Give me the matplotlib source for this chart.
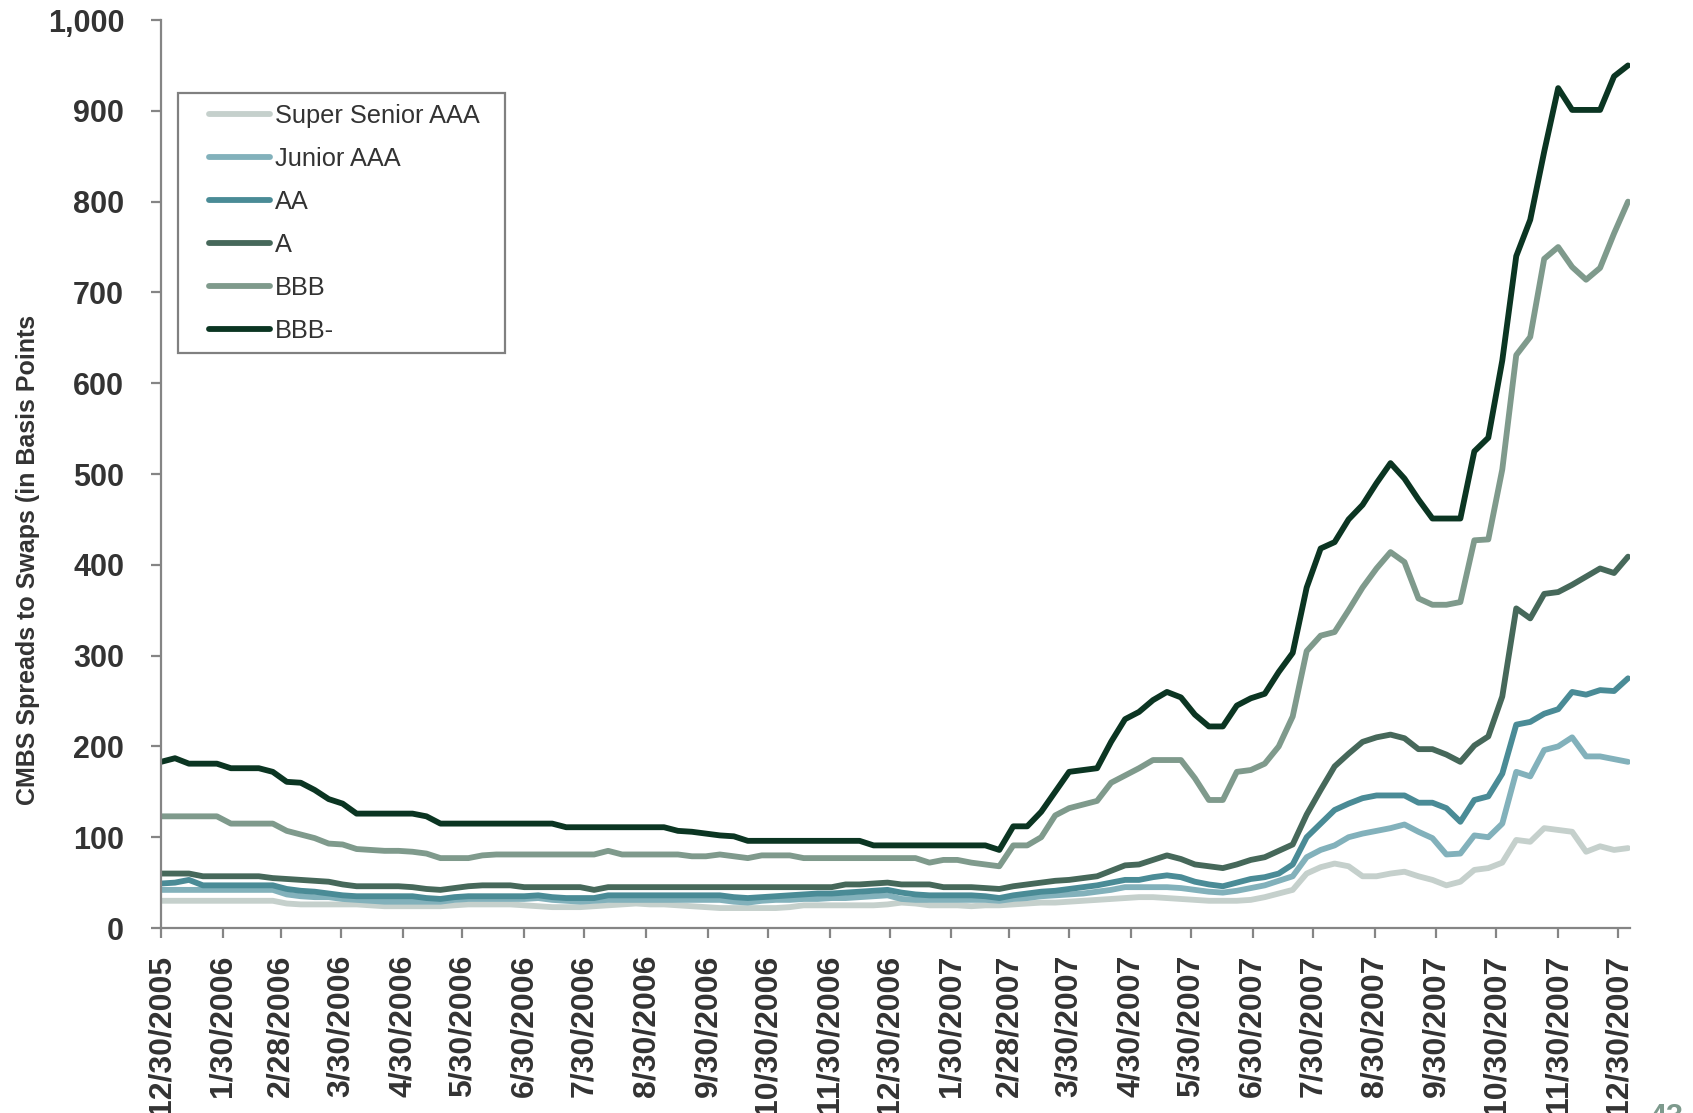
import datetime as dt

import numpy as np
import matplotlib
matplotlib.use("Agg")
import matplotlib.pyplot as plt
import matplotlib.dates as mdates
from matplotlib.patches import Rectangle
from matplotlib.ticker import FuncFormatter

plt.rcParams['font.family'] = ['Liberation Sans', 'DejaVu Sans']

# weekly observations, 12/30/2005 .. 1/4/2008
week_dates = [dt.date(2005, 12, 30) + dt.timedelta(days=7 * k) for k in range(106)]

super_senior_aaa = [
    30, 30, 30, 30, 30, 30, 30, 30, 30, 27,
    26, 26, 26, 26, 26, 25, 24, 24, 24, 24,
    24, 25, 26, 26, 26, 26, 25, 24, 23, 23,
    23, 24, 25, 26, 27, 26, 26, 25, 24, 23,
    22, 22, 22, 22, 22, 23, 25, 25, 25, 25,
    25, 25, 26, 28, 27, 25, 25, 25, 24, 25,
    25, 26, 27, 28, 28, 29, 30, 31, 32, 33,
    34, 34, 33, 32, 31, 30, 30, 30, 31, 34,
    38, 42, 60, 67, 71, 68, 57, 57, 60, 62,
    57, 53, 47, 51, 64, 66, 72, 97, 95, 110,
    108, 106, 84, 90, 86, 88]

junior_aaa = [
    42, 42, 42, 42, 42, 42, 42, 42, 42, 37,
    35, 34, 34, 32, 31, 30, 29, 29, 29, 29,
    29, 31, 32, 32, 32, 32, 32, 33, 31, 30,
    29, 30, 31, 31, 31, 31, 31, 31, 31, 31,
    31, 29, 28, 30, 31, 31, 32, 32, 33, 33,
    34, 35, 36, 32, 31, 31, 31, 31, 31, 31,
    30, 32, 33, 35, 36, 37, 38, 40, 42, 45,
    45, 45, 45, 44, 42, 40, 39, 41, 44, 47,
    52, 57, 78, 86, 91, 100, 104, 107, 110, 114,
    106, 99, 81, 82, 102, 100, 115, 172, 167, 196,
    200, 210, 189, 189, 186, 183]

aa = [
    49, 50, 53, 47, 47, 47, 47, 47, 47, 43,
    41, 40, 38, 36, 35, 35, 35, 35, 35, 33,
    32, 34, 35, 35, 35, 35, 35, 36, 34, 33,
    33, 33, 36, 36, 36, 36, 36, 36, 36, 36,
    36, 34, 33, 34, 35, 36, 37, 38, 38, 39,
    40, 41, 42, 39, 37, 36, 36, 36, 36, 35,
    33, 36, 38, 40, 41, 43, 45, 47, 50, 53,
    53, 56, 58, 56, 51, 48, 46, 50, 54, 56,
    60, 70, 100, 115, 130, 137, 143, 146, 146, 146,
    138, 138, 132, 117, 141, 145, 170, 224, 227, 236,
    241, 260, 257, 262, 261, 275]

a = [
    60, 60, 60, 57, 57, 57, 57, 57, 55, 54,
    53, 52, 51, 48, 46, 46, 46, 46, 45, 43,
    42, 44, 46, 47, 47, 47, 45, 45, 45, 45,
    45, 42, 45, 45, 45, 45, 45, 45, 45, 45,
    45, 45, 45, 45, 45, 45, 45, 45, 45, 48,
    48, 49, 50, 48, 48, 48, 45, 45, 45, 44,
    43, 46, 48, 50, 52, 53, 55, 57, 63, 69,
    70, 75, 80, 76, 70, 68, 66, 70, 75, 78,
    85, 92, 125, 152, 178, 192, 205, 210, 213, 209,
    197, 197, 191, 183, 201, 211, 255, 352, 341, 368,
    370, 378, 387, 396, 391, 409]

bbb = [
    123, 123, 123, 123, 123, 115, 115, 115, 115, 107,
    103, 99, 93, 92, 87, 86, 85, 85, 84, 82,
    77, 77, 77, 80, 81, 81, 81, 81, 81, 81,
    81, 81, 85, 81, 81, 81, 81, 81, 79, 79,
    81, 79, 77, 80, 80, 80, 77, 77, 77, 77,
    77, 77, 77, 77, 77, 72, 75, 75, 72, 70,
    68, 91, 91, 100, 124, 132, 136, 140, 160, 168,
    176, 185, 185, 185, 165, 141, 141, 172, 174, 181,
    200, 233, 305, 322, 326, 350, 375, 396, 414, 403,
    363, 356, 356, 359, 427, 428, 505, 631, 651, 737,
    750, 728, 714, 727, 765, 800]

bbb_minus = [
    183, 187, 181, 181, 181, 176, 176, 176, 172, 161,
    160, 152, 142, 137, 126, 126, 126, 126, 126, 123,
    115, 115, 115, 115, 115, 115, 115, 115, 115, 111,
    111, 111, 111, 111, 111, 111, 111, 107, 106, 104,
    102, 101, 96, 96, 96, 96, 96, 96, 96, 96,
    96, 91, 91, 91, 91, 91, 91, 91, 91, 91,
    86, 112, 112, 128, 150, 172, 174, 176, 205, 230,
    238, 251, 260, 254, 235, 222, 222, 245, 253, 258,
    282, 303, 375, 418, 425, 450, 466, 490, 512, 495,
    472, 451, 451, 451, 525, 540, 625, 740, 780, 855,
    925, 901, 901, 901, 938, 950]

series_names = ['Super Senior AAA', 'Junior AAA', 'AA', 'A', 'BBB', 'BBB-']
series_values = [super_senior_aaa, junior_aaa, aa, a, bbb, bbb_minus]
series_colors = ['#c5d0cc', '#82b1bb', '#4a8b96', '#46685a', '#7f9a8c', '#0b3522']

# monthly ticks on the 30th (28th in February)
tick_dates = [dt.date(2005, 12, 30)]
for year in (2006, 2007):
    for month in range(1, 13):
        tick_dates.append(dt.date(year, month, 28 if month == 2 else 30))
tick_labels = [f'{d.month}/{d.day}/{d.year}' for d in tick_dates]

y_ticks = list(range(0, 1001, 100))


def plot_spreads():
    fig = plt.figure(figsize=(16.93, 11.13), dpi=100)
    ax = fig.add_axes([0.0951, 0.1662, 0.8677, 0.8158])

    handles = []
    for name, values, color in zip(series_names, series_values, series_colors):
        line, = ax.plot(week_dates, values, color=color, lw=4.2,
                        solid_joinstyle='round', solid_capstyle='round', label=name)
        handles.append(line)

    ax.set_xlim(dt.date(2005, 12, 30), dt.date(2008, 1, 5))
    ax.set_ylim(0, 1000)
    ax.set_yticks(y_ticks)
    ax.yaxis.set_major_formatter(FuncFormatter(lambda v, p: f'{int(v):,}'))
    ax.set_xticks([mdates.date2num(d) for d in tick_dates])
    ax.set_xticklabels(tick_labels, rotation=90, ha='center', va='top')

    for side in ('top', 'right'):
        ax.spines[side].set_visible(False)
    for side in ('left', 'bottom'):
        ax.spines[side].set_color('#858585')
        ax.spines[side].set_linewidth(1.6)
    ax.tick_params(axis='both', direction='out', color='#858585', width=1.6, length=7.5)
    ax.tick_params(axis='y', labelsize=22, pad=19, labelcolor='#333333')
    ax.tick_params(axis='x', labelsize=23, pad=11.5, labelcolor='#333333')
    for lbl in ax.get_xticklabels() + ax.get_yticklabels():
        lbl.set_fontweight('bold')

    fig.text(0.0165, 0.497, 'CMBS Spreads to Swaps (in Basis Points', rotation=90,
             ha='center', va='center', fontsize=18, fontweight='bold', color='#333333')

    # legend box
    fig.patches.append(Rectangle((178 / 1693, 1 - 353 / 1113), 327 / 1693, 260 / 1113,
                                 transform=fig.transFigure, fill=False,
                                 edgecolor='#808080', lw=1.6))
    fig.legend(handles=handles, loc='upper left', bbox_to_anchor=(209 / 1693, 1 - 104 / 1113),
               frameon=False, fontsize=18.3, borderpad=0, borderaxespad=0,
               handlelength=2.4, handletextpad=0.2, labelspacing=0.75,
               labelcolor='#333333')

    fig.text(1650 / 1693, 1 - 1103 / 1113, '43', ha='left', va='top',
             fontsize=22, fontweight='bold', color='#7d9a8d')

    fig.savefig('out.png', dpi=100)


if __name__ == '__main__':
    plot_spreads()
